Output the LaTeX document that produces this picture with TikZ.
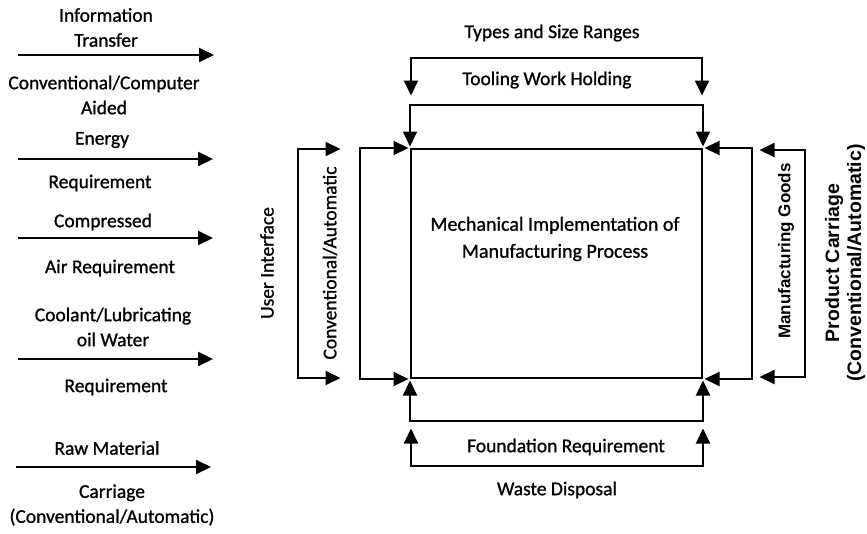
\documentclass[tikz,border=0pt]{standalone}
\usepackage{fontspec}
\setmainfont{Carlito}[FakeBold=1]
\newfontfamily\arialfont{Liberation Sans}
\usetikzlibrary{arrows.meta}
\begin{document}
\begin{tikzpicture}[x=1pt,y=-1pt,
  line width=2pt,
  tip/.tip={Triangle[length=15pt,width=14pt]},
  arr/.style={-tip},
  barr/.style={tip-tip, shorten >=1.5pt, shorten <=1.5pt},
  lbl/.style={font=\fontsize{19.5}{25}\selectfont, align=center, inner sep=0pt},
  mlbl/.style={font=\fontsize{20}{27}\selectfont, align=center, inner sep=0pt},
  rlbl/.style={font=\arialfont\bfseries\fontsize{17}{21}\selectfont, align=center, inner sep=0pt},
  rlblb/.style={font=\arialfont\bfseries\fontsize{19.5}{22}\selectfont, align=center, inner sep=0pt},
]
\useasboundingbox (0,0) rectangle (867,533);
% main box
\node[draw, minimum width=291pt, minimum height=229pt, inner sep=0pt] (box) at (556.5,263.5) {};
\node[mlbl] (mtext) at (555,239) {Mechanical Implementation of\\Manufacturing Process};
% top brackets
\coordinate (t1l) at (411,97);
\coordinate (t1r) at (702,97);
\draw[barr] (t1l) -- (411,58) -| (t1r);
\draw[barr] (box.north west) -- ++(0,-43) -| (box.north east);
\node[lbl] (types) at (552,33) {Types and Size Ranges};
\node[lbl] (tool) at (547,80) {Tooling Work Holding};
% bottom brackets
\coordinate (b1l) at (411,427);
\coordinate (b1r) at (703,427);
\draw[barr] (box.south west) -- ++(0,42) -| (box.south east);
\draw[barr] (b1l) -- (411,466) -| (b1r);
\node[lbl] (found) at (566,447) {Foundation Requirement};
\node[lbl] (waste) at (557,490) {Waste Disposal};
% left brackets
\coordinate (l1t) at (342,149);
\coordinate (l1b) at (342,378);
\draw[barr] (l1t) -- (298,149) |- (l1b);
\draw[barr] (box.north west) -- ++(-50,0) |- (box.south west);
\node[lbl, rotate=90] (ui) at (267,263) {User Interface};
\node[lbl, rotate=90] (ca) at (330,263) {Conventional/Automatic};
% right brackets
\coordinate (r1t) at (758,150);
\coordinate (r1b) at (758,377);
\draw[barr] (box.north east) -- ++(49,0) |- (box.south east);
\draw[barr] (r1t) -- (805,150) |- (r1b);
\node[rlbl, rotate=90] (mg) at (786,251) {Manufacturing Goods};
\node[rlblb, rotate=90] (pc) at (845,263) {Product Carriage\\(Conventional/Automatic)};
% left input arrows
\coordinate (a1s) at (18,55);  \coordinate (a1e) at (214,55);
\coordinate (a2s) at (18,159); \coordinate (a2e) at (213,159);
\coordinate (a3s) at (18,238); \coordinate (a3e) at (213,238);
\coordinate (a4s) at (18,359); \coordinate (a4e) at (213,359);
\coordinate (a5s) at (16,467); \coordinate (a5e) at (211,467);
\draw[arr] (a1s) -- (a1e);
\draw[arr] (a2s) -- (a2e);
\draw[arr] (a3s) -- (a3e);
\draw[arr] (a4s) -- (a4e);
\draw[arr] (a5s) -- (a5e);
\node[lbl] (i1a) at (106,27.5) {Information\\Transfer};
\node[lbl] (i1b) at (104,95) {Conventional/Computer\\Aided};
\node[lbl] (i2a) at (102,140) {Energy};
\node[lbl] (i2b) at (100,183) {Requirement};
\node[lbl] (i3a) at (103,222) {Compressed};
\node[lbl] (i3b) at (110,268) {Air Requirement};
\node[lbl] (i4a) at (113,327) {Coolant/Lubricating\\oil Water};
\node[lbl] (i4b) at (116,387) {Requirement};
\node[lbl] (i5a) at (107,448) {Raw Material};
\node[lbl] (i5b) at (112,505) {Carriage\\(Conventional/Automatic)};
\end{tikzpicture}
\end{document}
